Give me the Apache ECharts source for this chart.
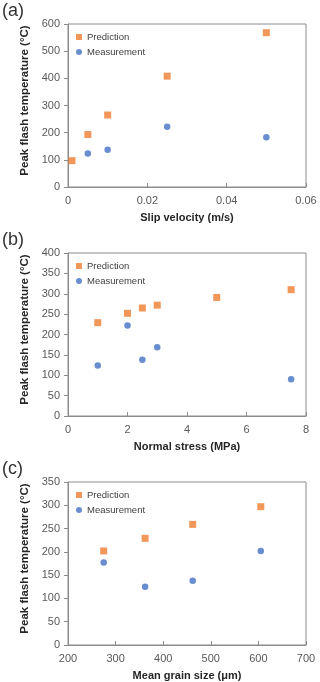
<!DOCTYPE html>
<html>
<head>
<meta charset="utf-8">
<script src="https://cdn.jsdelivr.net/npm/echarts@6/dist/echarts.min.js"></script>
<style>
  html, body { margin: 0; padding: 0; background: #fff; }
  #chart { width: 320px; height: 682px; }
</style>
</head>
<body>
<div id="chart"></div>
<script>
// (a) slip velocity
const velocityPred = [[0.001, 97], [0.005, 193], [0.01, 265], [0.025, 408], [0.05, 568]]
const velocityMeas = [[0.005, 123], [0.01, 137], [0.025, 222], [0.05, 183]]
// (b) normal stress
const stressPred = [[1, 229], [2, 252], [2.5, 265], [3, 272], [5, 291], [7.5, 310]]
const stressMeas = [[1, 124], [2, 222], [2.5, 138], [3, 169], [7.5, 90]]
// (c) grain size
const grainPred = [[275, 202], [362, 229], [462, 259], [605, 297]]
const grainMeas = [[275, 177], [362, 125], [462, 138], [605, 202]]

const panelLabels = ["(a)", "(b)", "(c)"]
const xTitles = ["Slip velocity (m/s)", "Normal stress (MPa)", "Mean grain size (μm)"]
const yTitle = "Peak flash temperature (°C)"
const xRanges = [[0, 0.06, 0.02], [0, 8, 2], [200, 700, 100]]
const yRanges = [[0, 600, 100], [0, 400, 50], [0, 350, 50]]

const gridTops = [24, 253, 482]
const axisColor = "#8c8c8c"
const font = "Liberation Sans, Arial, sans-serif"

const chart = echarts.init(document.getElementById("chart"))

const grids = gridTops.map(top => ({
  left: 68, top: top, width: 238, height: 163,
  show: true, borderColor: axisColor, borderWidth: 1
}))

const xAxes = xRanges.map((r, i) => ({
  gridIndex: i, type: "value", min: r[0], max: r[1], interval: r[2],
  name: xTitles[i], nameLocation: "middle", nameGap: 25,
  nameTextStyle: { fontFamily: font, fontSize: 11, fontWeight: "bold", color: "#262626" },
  axisLine: { lineStyle: { color: axisColor } },
  axisTick: { inside: true, length: 4, lineStyle: { color: axisColor } },
  axisLabel: { fontFamily: font, fontSize: 11, color: "#595959", margin: 8 },
  splitLine: { show: false }
}))

const yAxes = yRanges.map((r, i) => ({
  gridIndex: i, type: "value", min: r[0], max: r[1], interval: r[2],
  name: yTitle, nameLocation: "middle", nameGap: 33,
  nameTextStyle: { fontFamily: font, fontSize: 11.5, fontWeight: "bold", color: "#262626", padding: [0, 0, 0, 10] },
  axisLine: { show: true, lineStyle: { color: axisColor } },
  axisTick: { show: true, length: 4, lineStyle: { color: axisColor } },
  axisLabel: { fontFamily: font, fontSize: 11, color: "#595959", margin: 8 },
  splitLine: { show: false }
}))

const predSets = [velocityPred, stressPred, grainPred]
const measSets = [velocityMeas, stressMeas, grainMeas]
const series = []
predSets.forEach((d, i) => {
  series.push({
    name: "Prediction", type: "scatter", xAxisIndex: i, yAxisIndex: i,
    symbol: "rect", symbolSize: 7, itemStyle: { color: "#ED7D31" }, data: d
  })
  series.push({
    name: "Measurement", type: "scatter", xAxisIndex: i, yAxisIndex: i,
    symbol: "circle", symbolSize: 6.5, itemStyle: { color: "#4472C4" }, data: measSets[i]
  })
})

const legends = gridTops.map(top => ({
  left: 76, top: top + 8, orient: "vertical", padding: 0,
  itemWidth: 6, itemHeight: 6, itemGap: 5,
  selectedMode: false,
  textStyle: { fontFamily: font, fontSize: 9.5, color: "#404040" },
  data: [
    { name: "Prediction", icon: "rect" },
    { name: "Measurement", icon: "circle" }
  ]
}))

chart.setOption({
  animation: false,
  grid: grids,
  xAxis: xAxes,
  yAxis: yAxes,
  legend: legends,
  series: series,
  graphic: panelLabels.map((t, i) => ({
    type: "text", left: 2, top: gridTops[i] - 22,
    style: { text: t, font: "18px " + font, fill: "#333" }
  }))
})
</script>
</body>
</html>
